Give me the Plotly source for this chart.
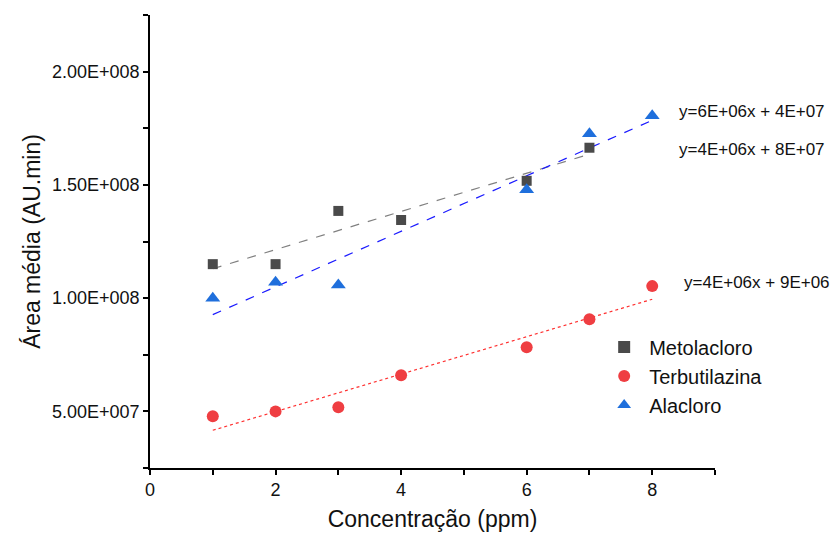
import numpy as np
import plotly.graph_objects as go

# Concentration (ppm) and mean peak area (AU.min) per herbicide
conc_meto = [1, 2, 3, 4, 6, 7]
area_meto = [1.150e8, 1.150e8, 1.385e8, 1.345e8, 1.518e8, 1.664e8]

conc_terb = [1, 2, 3, 4, 6, 7, 8]
area_terb = [4.78e7, 5.00e7, 5.18e7, 6.60e7, 7.83e7, 9.07e7, 1.053e8]

conc_ala = [1, 2, 3, 6, 7, 8]
area_ala = [1.000e8, 1.070e8, 1.058e8, 1.478e8, 1.726e8, 1.805e8]

eq_labels = ["y=6E+06x + 4E+07", "y=4E+06x + 8E+07", "y=4E+06x + 9E+06"]
eq_pos = [(8.39, 1.823e8), (8.39, 1.655e8), (8.47, 1.071e8)]

x_ticks = list(range(0, 10))
x_text = [str(v) if v % 2 == 0 else "" for v in x_ticks]
y_ticks = [2.5e7 * k for k in range(1, 10)]
y_text = ["", "5.00E+007", "", "1.00E+008", "", "1.50E+008", "", "2.00E+008", ""]

C_META = "#4a4a4a"
C_TERB = "#ef3e42"
C_ALA = "#1f6fdc"
FONT = "Liberation Sans, Arial, sans-serif"

fig = go.Figure()


def fit_line(x, y, color, dash):
    k, b = np.polyfit(x, y, 1)
    xs = np.array([min(x), max(x)], dtype=float)
    fig.add_trace(go.Scatter(x=xs, y=k * xs + b, mode="lines", showlegend=False,
                             line=dict(color=color, width=1.2, dash=dash),
                             hoverinfo="skip"))


fit_line(conc_meto, area_meto, "#808080", "dash")
fit_line(conc_ala, area_ala, "#1a1aff", "dash")
fit_line(conc_terb, area_terb, "#ff3030", "dot")

fig.add_trace(go.Scatter(x=conc_meto, y=area_meto, mode="markers", name="Metolacloro",
                         marker=dict(symbol="square", size=10, color=C_META)))
fig.add_trace(go.Scatter(x=conc_terb, y=area_terb, mode="markers", name="Terbutilazina",
                         marker=dict(symbol="circle", size=12, color=C_TERB)))
fig.add_trace(go.Scatter(x=conc_ala, y=area_ala, mode="markers", name="Alacloro",
                         marker=dict(symbol="triangle-up", size=13, color=C_ALA)))

for txt, (xp, yp) in zip(eq_labels, eq_pos):
    fig.add_annotation(x=xp, y=yp, text=txt, showarrow=False, xanchor="left",
                       yanchor="middle", font=dict(size=17, color="#111111", family=FONT))

axis_common = dict(showline=True, linecolor="black", linewidth=1.5, ticks="outside",
                   ticklen=5, tickwidth=1.5, tickcolor="black", showgrid=False,
                   zeroline=False, mirror=False)

fig.update_xaxes(range=[0, 9], tickmode="array", tickvals=x_ticks, ticktext=x_text,
                 tickfont=dict(size=18, color="#111111", family=FONT),
                 title=dict(text="Concentração (ppm)", standoff=12,
                            font=dict(size=23, color="#111111", family=FONT)),
                 **axis_common)
fig.update_yaxes(range=[2.5e7, 2.25e8], tickmode="array", tickvals=y_ticks, ticktext=y_text,
                 tickfont=dict(size=18, color="#111111", family=FONT),
                 title=dict(text="Área média (AU.min)", standoff=5,
                            font=dict(size=23, color="#111111", family=FONT)),
                 **axis_common)

fig.update_layout(
    width=830, height=542,
    margin=dict(l=150, r=115, t=15, b=74),
    paper_bgcolor="white", plot_bgcolor="white",
    font=dict(family=FONT, color="#111111"),
    legend=dict(x=0.795, y=0.31, xanchor="left", yanchor="top",
                bgcolor="rgba(0,0,0,0)", font=dict(size=20, family=FONT),
                itemsizing="constant", tracegroupgap=0, itemwidth=40),
)

fig.write_html("out.html")
